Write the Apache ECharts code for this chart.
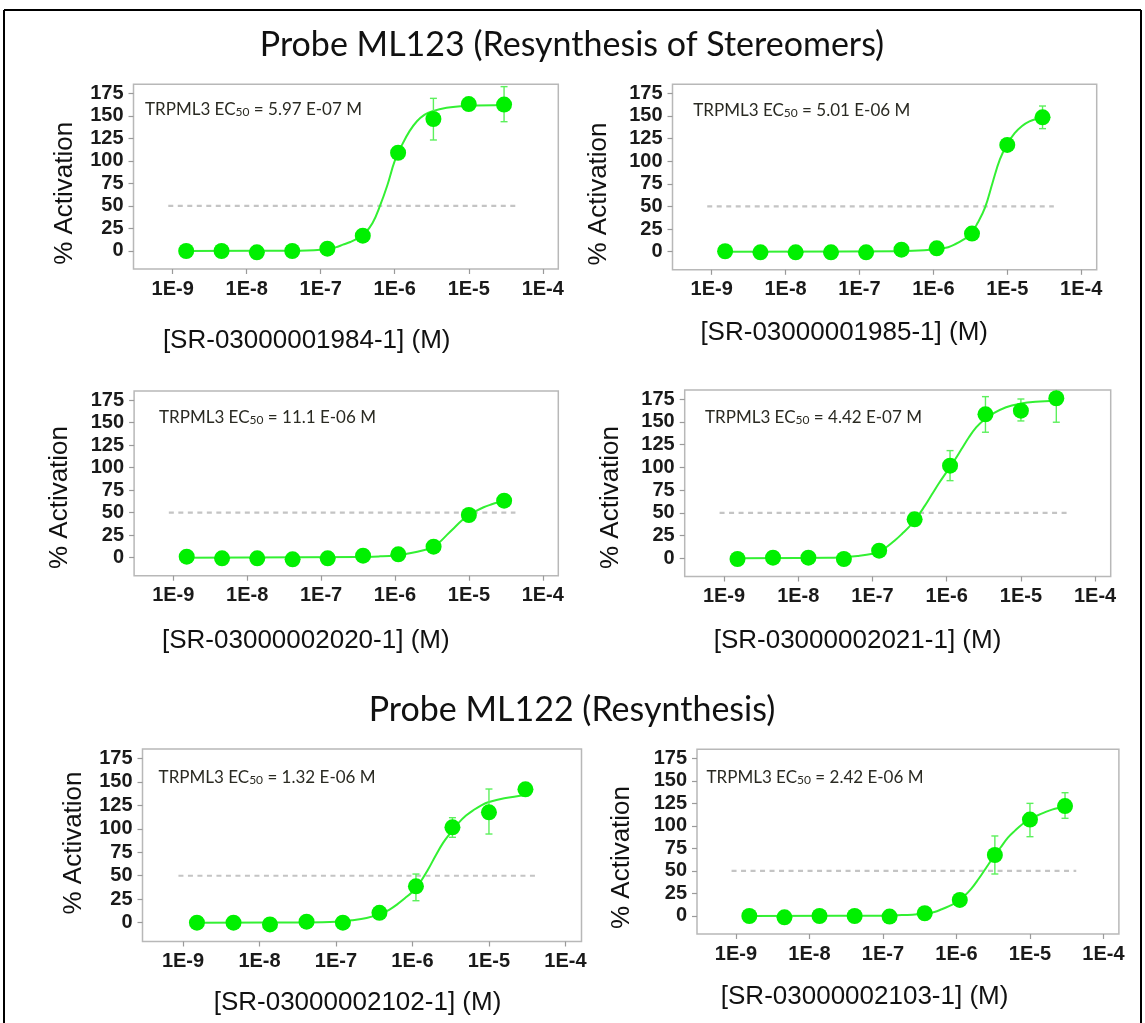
<!DOCTYPE html>
<html>
<head>
<meta charset="utf-8">
<script src="https://cdn.jsdelivr.net/npm/echarts@6.0.0/dist/echarts.min.js"></script>
<style>
html,body{margin:0;padding:0;background:#fff;}
#chart{width:1145px;height:1023px;}
</style>
</head>
<body>
<div id="chart"></div>
<script>
// ---------------- DATA ----------------
const titles = ['Probe ML123 (Resynthesis of Stereomers)', 'Probe ML122 (Resynthesis)'];
const compounds = ['[SR-03000001984-1] (M)', '[SR-03000001985-1] (M)', '[SR-03000002020-1] (M)',
                   '[SR-03000002021-1] (M)', '[SR-03000002102-1] (M)', '[SR-03000002103-1] (M)'];
const ec50Values = ['5.97 E-07', '5.01 E-06', '11.1 E-06', '4.42 E-07', '1.32 E-06', '2.42 E-06'];
const yTickValues = [0, 25, 50, 75, 100, 125, 150, 175];
const xTickExponents = [-9, -8, -7, -6, -5, -4];
const yAxisTitle = '% Activation';
const halfMaxLevel = 50;
const halfMaxSpan = [-9.06, -4.37]; // log10 M extent of the dashed 50% line

// concentrations (M)
const conc = [1.52e-9, 4.57e-9, 1.37e-8, 4.12e-8, 1.23e-7, 3.70e-7, 1.11e-6, 3.33e-6, 1.0e-5, 3.0e-5];

// % activation per compound
const act1984 = [0, 0, -1.5, 0, 2.6, 17, 109, 146.5, 163, 162.5];
const act1985 = [0.5, -0.7, -0.7, -0.7, -0.7, 2.2, 3.7, 20, 118, 148.5];
const act2020 = [1.1, -0.7, -0.7, -1.8, -0.7, 2.2, 3.7, 12.2, 47.4, 63.3];
const act2021 = [-0.8, 0.7, 0.7, -0.8, 8.4, 42.8, 101.8, 158.2, 162.2, 175.8];
const act2102 = [0, 0, -1.8, 1.1, 0, 10.5, 38.7, 101.5, 117.5, 142];
const act2103 = [0, -1.5, 0, 0, -0.7, 3, 17.8, 67.7, 107, 122];

// error bar bottoms / tops (null = no bar)
const lo1984 = [null, null, null, null, null, null, null, 123.2, null, 143.5];
const hi1984 = [null, null, null, null, null, null, null, 169.4, null, 182.4];
const lo1985 = [null, null, null, null, null, null, null, null, null, 136];
const hi1985 = [null, null, null, null, null, null, null, null, null, 161];
const lo2020 = [null, null, null, null, null, null, null, null, null, null];
const hi2020 = [null, null, null, null, null, null, null, null, null, null];
const lo2021 = [null, null, null, null, null, null, 85.3, 138.5, 150.9, 149.5];
const hi2021 = [null, null, null, null, null, null, 118.3, 177.6, 175, 202];
const lo2102 = [null, null, null, null, null, null, 23.4, 90.9, 94.4, null];
const hi2102 = [null, null, null, null, null, null, 51.8, 111.8, 142.3, null];
const lo2103 = [null, null, null, null, null, null, null, 46.6, 88, 108.4];
const hi2103 = [null, null, null, null, null, null, null, 88.8, 125, 136.8];

// fitted curves (log10 M, % activation)
const fitX1984 = [-8.82, -7.4, -7.0, -6.8, -6.7, -6.6, -6.5, -6.4, -6.3, -6.2, -6.1, -6.0, -5.9, -5.8, -5.7, -5.6, -5.5, -5.3, -5.0, -4.52];
const fitY1984 = [0, 0.3, 1.5, 4, 7, 10, 14, 20, 31, 50, 73, 100, 118, 133, 144, 151, 155, 159, 161, 162];
const fitX1985 = [-8.82, -6.5, -6.2, -6.0, -5.9, -5.8, -5.7, -5.6, -5.5, -5.4, -5.3, -5.2, -5.1, -5.0, -4.9, -4.8, -4.7, -4.6, -4.52];
const fitY1985 = [0, 0.5, 1.2, 2.5, 3.5, 5, 8.5, 13, 19, 32, 49, 76, 102, 119, 131, 139, 144, 147, 148.5];
const fitX2020 = [-8.82, -6.5, -6.2, -6.0, -5.8, -5.6, -5.5, -5.4, -5.3, -5.2, -5.1, -5.0, -4.9, -4.8, -4.7, -4.6, -4.51];
const fitY2020 = [0, 0.8, 1.5, 2.5, 4.8, 8.5, 11.5, 17, 25, 33, 41, 47, 52, 56, 59, 61.5, 63.3];
const fitX2021 = [-8.82, -7.6, -7.4, -7.2, -7.0, -6.9, -6.8, -6.7, -6.6, -6.5, -6.4, -6.3, -6.2, -6.1, -6.0, -5.9, -5.8, -5.7, -5.6, -5.5, -5.4, -5.2, -5.0, -4.8, -4.53];
const fitY2021 = [0, 0.5, 1.2, 2.5, 5, 8, 13, 19.5, 27, 35, 45, 57, 70, 83, 95, 107, 120, 133, 144, 152, 158, 166, 170, 172, 173.2];
const fitX2102 = [-8.82, -7.4, -7.0, -6.8, -6.6, -6.4, -6.3, -6.2, -6.1, -6.0, -5.9, -5.8, -5.7, -5.6, -5.5, -5.4, -5.3, -5.2, -5.1, -5.0, -4.8, -4.51];
const fitY2102 = [0, 0.3, 1, 2.5, 5, 10, 14, 19.5, 26, 33, 43, 56, 71, 85, 96, 106, 114, 120, 125, 128.5, 132.5, 136];
const fitX2103 = [-8.82, -7.0, -6.8, -6.6, -6.4, -6.3, -6.2, -6.1, -6.0, -5.9, -5.8, -5.7, -5.6, -5.5, -5.4, -5.3, -5.2, -5.1, -5.0, -4.9, -4.8, -4.7, -4.6, -4.51];
const fitY2103 = [0, 0.3, 0.8, 1.5, 3, 4.5, 7.5, 11, 15, 21.5, 30, 41, 53, 65, 76, 87, 95, 102, 107.5, 111.5, 115, 118, 120, 121.3];

// ---------------- LAYOUT / STYLE ----------------
const panels = [
  {act: act1984, lo: lo1984, hi: hi1984, fx: fitX1984, fy: fitY1984,
   grid: {left: 133.5, top: 84.3, width: 424.8, height: 184.7},
   xName: [306.7, 341], yName: [65, 193.3], ec: [145, 108]},
  {act: act1985, lo: lo1985, hi: hi1985, fx: fitX1985, fy: fitY1985,
   grid: {left: 672.5, top: 84.3, width: 424.2, height: 185.5},
   xName: [844.2, 333.3], yName: [598.7, 194], ec: [693.3, 108.3]},
  {act: act2020, lo: lo2020, hi: hi2020, fx: fitX2020, fy: fitY2020,
   grid: {left: 134.1, top: 391, width: 424.2, height: 184.7},
   xName: [305.8, 640.8], yName: [60.3, 497.5], ec: [159, 415.7]},
  {act: act2021, lo: lo2021, hi: hi2021, fx: fitX2021, fy: fitY2021,
   grid: {left: 684.7, top: 389.9, width: 426, height: 186.6},
   xName: [857.5, 640.8], yName: [610.7, 497.5], ec: [705, 415.7]},
  {act: act2102, lo: lo2102, hi: hi2102, fx: fitX2102, fy: fitY2102,
   grid: {left: 142.5, top: 748.9, width: 439, height: 192.6},
   xName: [357.5, 1003.3], yName: [73.8, 843], ec: [158.6, 776]},
  {act: act2103, lo: lo2103, hi: hi2103, fx: fitX2103, fy: fitY2103,
   grid: {left: 697, top: 749.3, width: 421.9, height: 184.7},
   xName: [864.6, 996.7], yName: [621.7, 857.5], ec: [706.5, 776]}
];

const MARKER = '#00f000';
const CURVE = '#33f033';
const ERR = '#5cf05c';
const REF = '#c4c4c4';
const LABEL_FONT = '"Liberation Sans", Arial, sans-serif';
const CAL_FONT = 'Lato, "Open Sans", sans-serif';

const grids = [], xAxes = [], yAxes = [], series = [], graphics = [];

panels.forEach((p, i) => {
  grids.push(Object.assign({show: true, borderColor: '#b8b8b8', borderWidth: 1.5, backgroundColor: '#fff'}, p.grid));
  xAxes.push({
    type: 'value', gridIndex: i, min: -9.53, max: -3.79,
    axisLine: {show: false, onZero: false},
    splitLine: {show: false},
    axisTick: {show: true, customValues: xTickExponents, length: 5, lineStyle: {color: '#9a9a9a', width: 1.2}},
    axisLabel: {customValues: xTickExponents, formatter: v => '1E' + v, margin: 10,
                fontFamily: LABEL_FONT, fontWeight: 'bold', fontSize: 20, color: '#1a1a1a'}
  });
  yAxes.push({
    type: 'value', gridIndex: i, min: -20, max: 185,
    axisLine: {show: false, onZero: false},
    splitLine: {show: false},
    axisTick: {show: true, customValues: yTickValues, length: 5, lineStyle: {color: '#9a9a9a', width: 1.2}},
    axisLabel: {customValues: yTickValues, margin: 10,
                fontFamily: LABEL_FONT, fontWeight: 'bold', fontSize: 20, color: '#1a1a1a'}
  });
  // dashed 50% line
  series.push({
    type: 'line', xAxisIndex: i, yAxisIndex: i, silent: true, symbol: 'none', z: 1,
    data: halfMaxSpan.map(x => [x, halfMaxLevel]),
    lineStyle: {color: REF, width: 2.2, type: [5, 4.5]}
  });
  // fitted curve
  series.push({
    type: 'line', xAxisIndex: i, yAxisIndex: i, silent: true, symbol: 'none', z: 2,
    smooth: 0.4,
    data: p.fx.map((x, k) => [x, p.fy[k]]),
    lineStyle: {color: CURVE, width: 2}
  });
  // error bars
  const errData = [];
  conc.forEach((c, k) => { if (p.lo[k] != null) errData.push([Math.log10(c), p.lo[k], p.hi[k]]); });
  series.push({
    type: 'custom', xAxisIndex: i, yAxisIndex: i, silent: true, z: 3,
    data: errData,
    renderItem: (params, api) => {
      const x = api.value(0);
      const a = api.coord([x, api.value(1)]);
      const b = api.coord([x, api.value(2)]);
      const cs = params.coordSys;
      const topLimit = cs.y;
      const hw = 3.5;
      const st = {stroke: ERR, lineWidth: 1.4};
      const yTop = Math.max(b[1], topLimit);
      const children = [
        {type: 'line', shape: {x1: a[0], y1: a[1], x2: a[0], y2: yTop}, style: st},
        {type: 'line', shape: {x1: a[0] - hw, y1: a[1], x2: a[0] + hw, y2: a[1]}, style: st}
      ];
      if (b[1] >= topLimit) children.push({type: 'line', shape: {x1: b[0] - hw, y1: b[1], x2: b[0] + hw, y2: b[1]}, style: st});
      return {type: 'group', children: children};
    }
  });
  // points
  series.push({
    type: 'scatter', xAxisIndex: i, yAxisIndex: i, z: 4,
    symbol: 'circle', symbolSize: 16,
    data: conc.map((c, k) => [Math.log10(c), p.act[k]]),
    itemStyle: {color: MARKER, opacity: 1}
  });
  // axis names
  graphics.push({
    type: 'text', x: p.xName[0], y: p.xName[1],
    style: {text: compounds[i], fontFamily: LABEL_FONT, fontSize: 26, fill: '#111',
            align: 'center', verticalAlign: 'middle'}
  });
  graphics.push({
    type: 'text', x: p.yName[0], y: p.yName[1], rotation: Math.PI / 2,
    style: {text: yAxisTitle, fontFamily: LABEL_FONT, fontSize: 26, fill: '#111',
            align: 'center', verticalAlign: 'middle'}
  });
  // EC50 annotation
  graphics.push({
    type: 'text', x: p.ec[0], y: p.ec[1],
    style: {
      text: '{a|TRPML3 EC}{s|50}{a| = ' + ec50Values[i] + ' M}',
      align: 'left', verticalAlign: 'middle',
      rich: {
        a: {fontFamily: CAL_FONT, fontSize: 17, fill: '#2a2a22', lineHeight: 21, verticalAlign: 'bottom'},
        s: {fontFamily: CAL_FONT, fontSize: 12, fill: '#2a2a22', lineHeight: 10, verticalAlign: 'bottom'}
      }
    }
  });
});

// titles
graphics.push({type: 'text', x: 572, y: 45,
  style: {text: titles[0], fontFamily: CAL_FONT, fontSize: 34, fill: '#111', align: 'center', verticalAlign: 'middle'}});
graphics.push({type: 'text', x: 572, y: 710,
  style: {text: titles[1], fontFamily: CAL_FONT, fontSize: 34, fill: '#111', align: 'center', verticalAlign: 'middle'}});
// outer frame
const frameStyle = {stroke: '#000', lineWidth: 2};
graphics.push({type: 'line', shape: {x1: 4, y1: 10, x2: 1141, y2: 10}, style: frameStyle});
graphics.push({type: 'line', shape: {x1: 4, y1: 10, x2: 4, y2: 1023}, style: frameStyle});
graphics.push({type: 'line', shape: {x1: 1141, y1: 10, x2: 1141, y2: 1023}, style: frameStyle});

const chart = echarts.init(document.getElementById('chart'), null, {renderer: 'canvas'});
chart.setOption({
  animation: false,
  backgroundColor: '#fff',
  grid: grids, xAxis: xAxes, yAxis: yAxes, series: series, graphic: graphics
});
</script>
</body>
</html>
